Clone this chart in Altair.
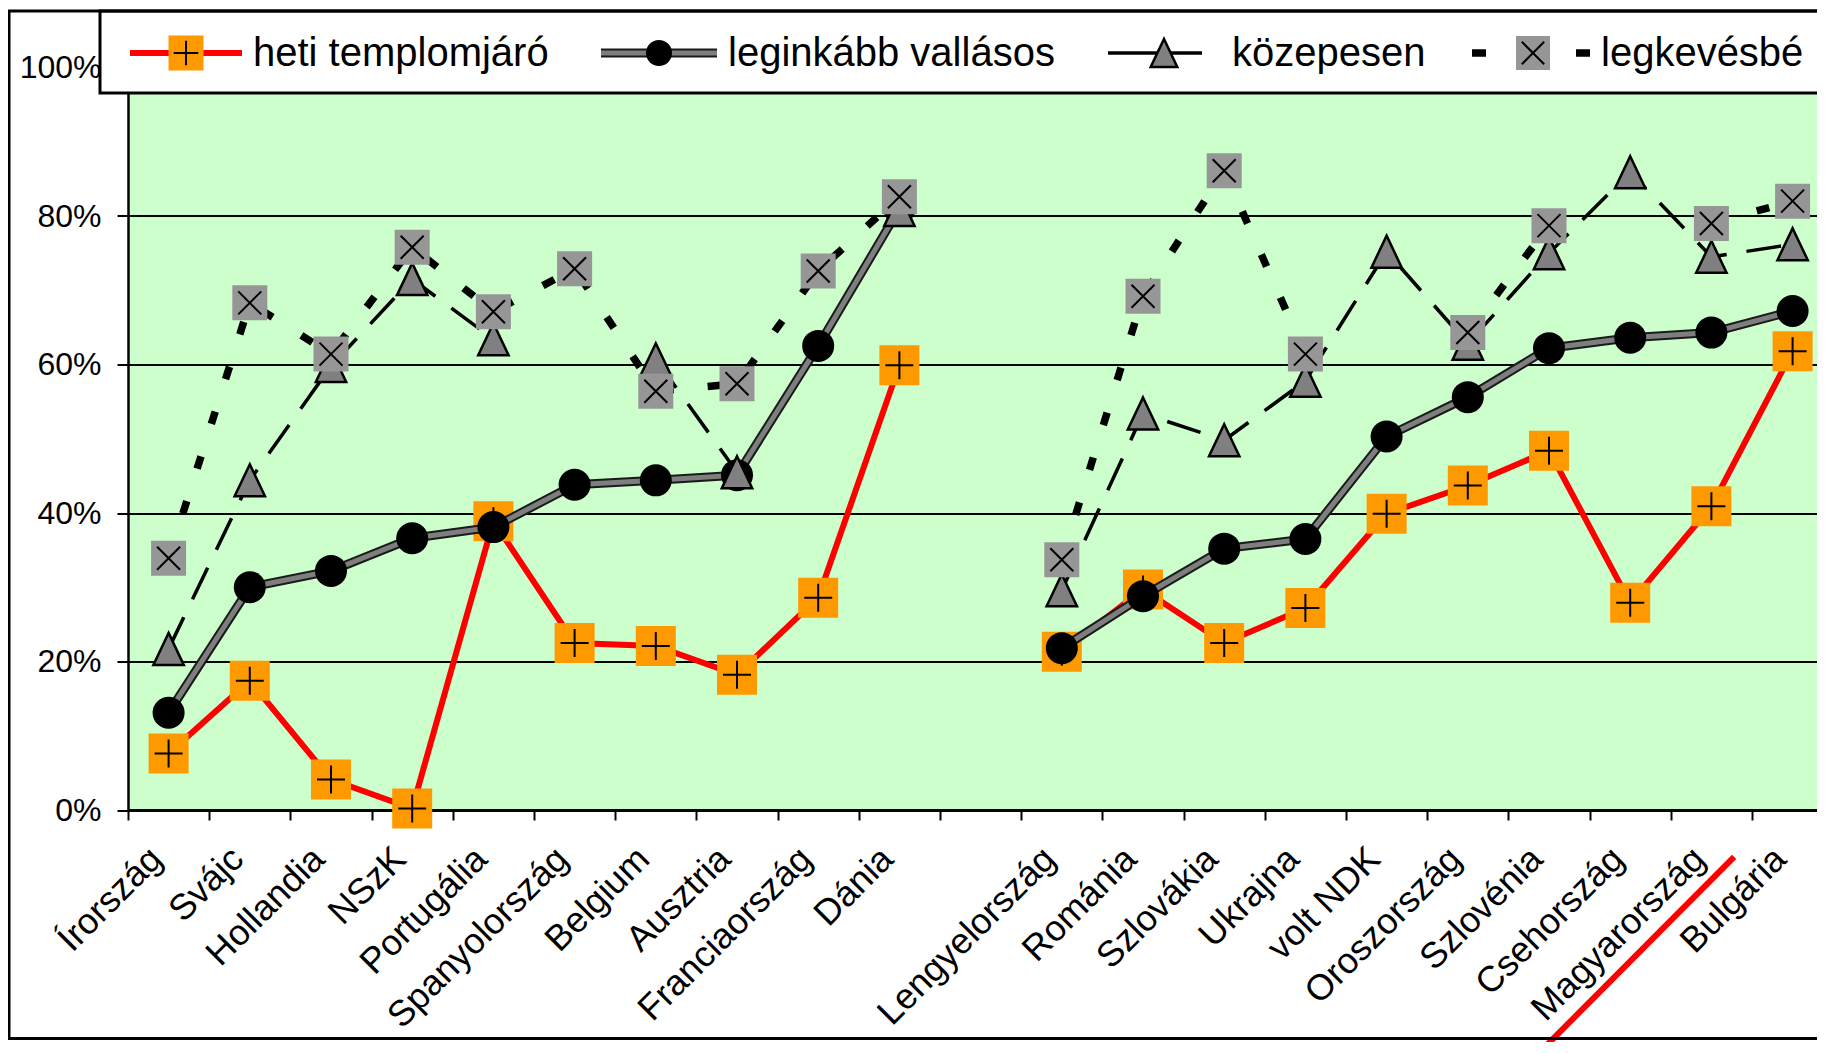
import json
import altair as alt
import pandas as pd

# ---------------- data ----------------
categories = ["Írország", "Svájc", "Hollandia", "NSzK", "Portugália", "Spanyolország",
              "Belgium", "Ausztria", "Franciaország", "Dánia", "",
              "Lengyelország", "Románia", "Szlovákia", "Ukrajna", "volt NDK",
              "Oroszország", "Szlovénia", "Csehország", "Magyarország", "Bulgária"]
heti = [7.6, 17.4, 4.1, 0.2, 38.9, 22.5, 22.1, 18.2, 28.6, 59.9, None,
        21.3, 29.7, 22.5, 27.2, 39.9, 43.7, 48.4, 27.9, 40.9, 61.8]
leginkabb = [13.1, 30.0, 32.2, 36.6, 38.1, 43.8, 44.4, 45.1, 62.5, 81.0, None,
             21.8, 28.8, 35.2, 36.5, 50.3, 55.6, 62.2, 63.6, 64.3, 67.2]
kozepesen = [21.7, 44.4, 59.8, 71.5, 63.4, None, 60.7, 45.5, None, 80.8, None,
             29.6, 53.4, 49.8, 57.8, 75.2, 62.8, 75.0, 85.9, 74.5, 76.2]
legkevesbe = [33.9, 68.3, 61.4, 75.8, 67.1, 72.9, 56.4, 57.4, 72.6, 82.6, None,
              33.7, 69.2, 86.1, 61.4, None, 64.3, 78.7, None, 79.0, 82.0]
series_names = ["heti templomjáró", "leginkább vallásos", "közepesen", "legkevésbé"]
y_ticks = [0, 20, 40, 60, 80, 100]
# red hand-drawn annotation stroke (in data units: category index, percent)
annot_x = [19.78, 17.36]
annot_y = [-6.3, -32.9]

# ---------------- layout constants ----------------
FONT = "Liberation Sans"
BAND = 81.2
W = 1689
SHOWN = W / BAND
H = 742.5
PLUS = "M-1,0L1,0M0,-1L0,1"
XSHAPE = "M-1,-1L1,1M-1,1L1,-1"
TRI = "M0,-1L0.95,1L-0.95,1Z"


def rows(vals):
    out, seg, prev_none = [], 0, True
    for i, v in enumerate(vals):
        if v is None:
            prev_none = True
            continue
        if prev_none:
            seg += 1
            prev_none = False
        out.append({"x": i + 0.5, "v": v, "seg": seg})
    return pd.DataFrame(out)


label_expr = "[" + ",".join(json.dumps(c, ensure_ascii=False) for c in categories) + "][datum.value] || ''"

xscale = alt.Scale(domain=[0, SHOWN], nice=False, zero=False)
yscale = alt.Scale(domain=[0, 100], nice=False, zero=False)
xaxis = alt.Axis(values=list(range(0, 21)), labelExpr=label_expr, labelAngle=315,
                 labelAlign="right", labelBaseline="middle", labelOffset=28, labelPadding=33,
                 labelFontSize=36, labelFont=FONT, labelColor="black", labelOverlap=False,
                 labelLimit=500, labelBound=False, labelFlush=False, tickSize=10, tickWidth=2,
                 tickColor="black", domainColor="black", domainWidth=3, grid=False, title=None)
yaxis = alt.Axis(values=y_ticks, labelExpr="datum.value + '%'", labelFontSize=32, labelFont=FONT,
                 labelColor="black", labelPadding=16, tickSize=11, tickWidth=2, tickColor="black",
                 domainColor="black", domainWidth=2.5, grid=True, gridColor="black", gridWidth=2,
                 gridOpacity=1, title=None)


def X():
    return alt.X("x:Q", scale=xscale, axis=xaxis)


def Y():
    return alt.Y("v:Q", scale=yscale, axis=yaxis)


line_styles = [
    [dict(color="#FF0000", strokeWidth=6)],
    [dict(color="#1a1a1a", strokeWidth=9), dict(color="#7e7e7e", strokeWidth=5)],
    [dict(color="black", strokeWidth=3.5, strokeDash=[35, 20])],
    [dict(color="black", strokeWidth=7.5, strokeDash=[13, 34])],
]
marker_styles = [
    [dict(shape="square", filled=True, color="#FF9900", size=1600),
     dict(shape=PLUS, filled=False, color="black", strokeWidth=2, size=784)],
    [dict(shape="circle", filled=True, color="black", size=1024)],
    [dict(shape=TRI, filled=True, fill="#808080", stroke="black", strokeWidth=2.5, size=1024)],
    [dict(shape="square", filled=True, color="#969696", size=1225),
     dict(shape=XSHAPE, filled=False, color="black", strokeWidth=2, size=529)],
]
legend_scale = [35 / 40, 26 / 32, 28 / 32, 34 / 35]

layers = []
for vals, ls, ms in zip([heti, leginkabb, kozepesen, legkevesbe], line_styles, marker_styles):
    df = rows(vals)
    for st in ls:
        layers.append(alt.Chart(df).mark_line(**st).encode(x=X(), y=Y(), detail="seg:N"))
    for st in ms:
        layers.append(alt.Chart(df).mark_point(opacity=1, **st).encode(x=X(), y=Y()))

annot = pd.DataFrame({"x": annot_x, "v": annot_y})
layers.append(alt.Chart(annot).mark_line(color="#FF0000", strokeWidth=6).encode(x=X(), y=Y()))

one = pd.DataFrame({"k": [0]})
# legend box
layers.append(alt.Chart(one).mark_rect(fill="white", stroke="black", strokeWidth=3).encode(
    x=alt.value(-28), x2=alt.value(1717), y=alt.value(-56.5), y2=alt.value(25.5)))

# legend entries (pixel layout)
LY = -14.5
legend_line = [(2, 114), (473, 589), (980, 1074), (1344, 1464)]
legend_marker = [58, 531, 1036, 1405]
legend_text = [125, 600, 1104, 1473]
legend_dash = [None, None, None, [14, 90]]
for i, name in enumerate(series_names):
    for st in line_styles[i]:
        st2 = {k: v for k, v in st.items() if k != "strokeDash"}
        if legend_dash[i]:
            st2["strokeDash"] = legend_dash[i]
        layers.append(alt.Chart(one).mark_rule(**st2).encode(
            x=alt.value(legend_line[i][0]), x2=alt.value(legend_line[i][1]), y=alt.value(LY)))
    for st in marker_styles[i]:
        st2 = dict(st)
        st2["size"] = st["size"] * legend_scale[i] ** 2
        layers.append(alt.Chart(one).mark_point(opacity=1, **st2).encode(
            x=alt.value(legend_marker[i]), y=alt.value(LY)))
    layers.append(alt.Chart(pd.DataFrame({"label": [name]})).mark_text(
        align="left", baseline="middle", font=FONT, fontSize=40, color="black").encode(
        x=alt.value(legend_text[i]), y=alt.value(LY + 1), text="label:N"))

# outer frame
layers.append(alt.Chart(one).mark_rect(fillOpacity=0, stroke="black", strokeWidth=3).encode(
    x=alt.value(-119), x2=alt.value(1717), y=alt.value(-56.5), y2=alt.value(971)))

chart = alt.layer(*layers).properties(
    width=W, height=H,
    padding={"left": 120, "top": 59.5, "right": 0, "bottom": 232},
    autosize=alt.AutoSizeParams(type="none"),
    background="white",
).configure_view(fill="#CCFFCC", strokeWidth=0)

chart.save("out.html", embed_options={"renderer": "svg", "actions": False})
